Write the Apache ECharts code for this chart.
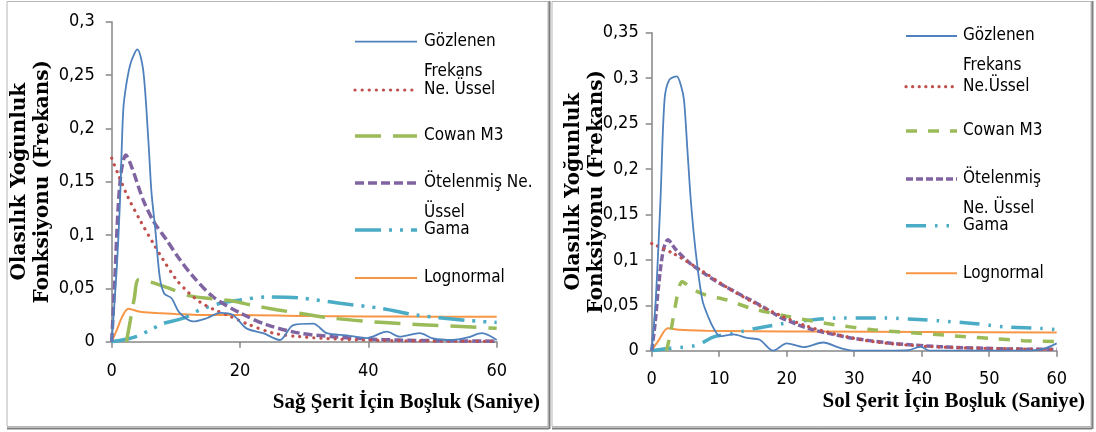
<!DOCTYPE html>
<html>
<head>
<meta charset="utf-8">
<script src="https://cdn.jsdelivr.net/npm/echarts@6/dist/echarts.min.js"></script>
<style>
    html, body { margin: 0; padding: 0; background: #fff; }
    #chart { width: 1096px; height: 432px; }
</style>
</head>
<body>
<div id="chart"></div>
<script>
// Sağ şerit (sol grafik) - [saniye, frekans]
const sagGozlenen = [[0, 0], [0.8, 0.07], [1.3, 0.133], [1.8, 0.217], [2.3, 0.242], [3.0, 0.262], [4.0, 0.274], [4.9, 0.255],
    [5.7, 0.19], [6.2, 0.14], [6.8, 0.105], [7.5, 0.06], [8.2, 0.045], [9.3, 0.041], [10.6, 0.027], [12.7, 0.019],
    [14.8, 0.022], [16.9, 0.027], [18.9, 0.025], [21.0, 0.0125], [23.6, 0.008], [26.2, 0.0016], [28.3, 0.0156],
    [31.4, 0.017], [33.5, 0.008], [36.6, 0.006], [39.7, 0.0034], [42.9, 0.0094], [44.9, 0.0047], [48.0, 0.008],
    [50.1, 0.003], [53.2, 0.0016], [55.5, 0.004], [57.7, 0.008], [60, 0.0016]];
const sagNeUssel = [[0, 0.172], [1, 0.157], [2.5, 0.136], [4.5, 0.113], [6.5, 0.092], [8, 0.077], [10.1, 0.058], [12, 0.046],
    [13.8, 0.037], [16, 0.03], [18, 0.025], [21, 0.017], [25.2, 0.008], [29.3, 0.0047], [35, 0.0025], [42, 0.0012],
    [50, 0.0006], [60, 0.0003]];
const sagCowan = [[2.3, 0], [2.9, 0.02], [3.5, 0.04], [4.2, 0.058], [6, 0.056], [9, 0.05], [12.2, 0.043], [16, 0.04],
    [19, 0.038], [22, 0.034], [25.7, 0.03], [30, 0.026], [34.5, 0.022], [40, 0.019], [44.9, 0.017], [50, 0.0155],
    [55.3, 0.014], [60, 0.0125]];
const sagOtelenmis = [[0, 0], [0.5, 0.06], [1.0, 0.125], [1.5, 0.16], [2.2, 0.175], [3.1, 0.164], [4.9, 0.133], [6.5, 0.113],
    [8.6, 0.095], [10.5, 0.078], [12.7, 0.061], [15.8, 0.042], [20, 0.027], [24.1, 0.016], [29.3, 0.008], [34.5, 0.0047],
    [40, 0.0025], [45, 0.0015], [50, 0.001], [55, 0.0007], [60, 0.0005]];
const sagGama = [[0, 0], [2, 0.002], [3.9, 0.005], [6, 0.011], [8, 0.017], [11.2, 0.022], [13.8, 0.03], [16.9, 0.036],
    [20, 0.039], [24.1, 0.042], [29.3, 0.041], [35.6, 0.036], [42.3, 0.031], [47.5, 0.025], [55.3, 0.02], [60, 0.018]];
const sagLognormal = [[0, 0], [0.8, 0.011], [1.6, 0.023], [2.6, 0.031], [4.4, 0.028], [7, 0.027], [10, 0.026],
    [13.8, 0.025], [20, 0.025], [30, 0.024], [40, 0.0237], [50, 0.0235], [60, 0.0234]];

// Sol şerit (sağ grafik)
const solGozlenen = [[0, 0], [0.6, 0.056], [1.3, 0.166], [1.9, 0.276], [2.6, 0.298], [3.7, 0.302], [4.4, 0.29], [4.8, 0.275],
    [5.3, 0.22], [5.8, 0.165], [6.5, 0.11], [7.5, 0.056], [8.5, 0.035], [9.3, 0.023], [10.1, 0.016], [12.1, 0.018],
    [14.1, 0.014], [16, 0.012], [18, 0], [20, 0.008], [22.5, 0.004], [25.4, 0.009], [27.9, 0.003], [30, 0], [35, 0],
    [38, 0.0005], [39.8, 0.0044], [41.2, 0], [45, 0], [50, 0], [55, 0], [58, 0.002], [60, 0.008]];
const solNeUssel = [[0, 0.118], [3.2, 0.107], [7.2, 0.089], [11.1, 0.07], [15.1, 0.053], [19, 0.039], [23, 0.027],
    [27.9, 0.017], [32.8, 0.0099], [40.2, 0.005], [50, 0.0025], [60, 0.0015]];
const solCowan = [[2.2, 0], [2.8, 0.02], [3.4, 0.045], [4.0, 0.068], [4.5, 0.076], [6, 0.068], [8.1, 0.061], [11.1, 0.056],
    [14.6, 0.047], [20, 0.038], [25.9, 0.03], [32.8, 0.023], [40, 0.019], [46.6, 0.0154], [50.1, 0.0136], [55, 0.011],
    [60, 0.01]];
const solOtelenmis = [[0, 0], [0.5, 0.03], [1.0, 0.07], [1.7, 0.11], [2.4, 0.122], [3.5, 0.112], [5.7, 0.096], [8, 0.084],
    [10.1, 0.074], [12.3, 0.065], [14.6, 0.056], [17, 0.046], [19, 0.037], [21.5, 0.029], [23.9, 0.023], [26.9, 0.018],
    [29.9, 0.0136], [35.8, 0.008], [42.7, 0.0044], [52.6, 0.002], [60, 0.0015]];
const solGama = [[0, 0], [2.7, 0.0026], [6.7, 0.006], [9.1, 0.015], [12.1, 0.019], [15, 0.024], [18, 0.028], [21.5, 0.032],
    [27.9, 0.036], [34.3, 0.036], [40.2, 0.034], [47.6, 0.03], [52.6, 0.026], [57.5, 0.0246], [60, 0.023]];
const solLognormal = [[0, 0], [1, 0.011], [2.4, 0.0246], [4, 0.023], [8, 0.022], [15, 0.0215], [25, 0.021], [40, 0.0205],
    [60, 0.02]];

// eksenler
const sagXTicks = [0, 20, 40, 60];
const sagYTicks = [0, 0.05, 0.1, 0.15, 0.2, 0.25, 0.3];
const solXTicks = [0, 10, 20, 30, 40, 50, 60];
const solYTicks = [0, 0.05, 0.1, 0.15, 0.2, 0.25, 0.3, 0.35];

// lejant
const sagLegend = ['Gözlenen', 'Ne. Üssel', 'Cowan M3', 'Ötelenmiş Ne.', 'Gama', 'Lognormal'];
const sagLegend2 = ['Frekans', '', '', 'Üssel', '', ''];
const solLegend = ['Gözlenen', 'Ne.Üssel', 'Cowan M3', 'Ötelenmiş', 'Gama', 'Lognormal'];
const solLegend2 = ['Frekans', '', '', 'Ne. Üssel', '', ''];

const sagXTitle = 'Sağ Şerit İçin Boşluk (Saniye)';
const solXTitle = 'Sol Şerit İçin Boşluk (Saniye)';
const yTitle = 'Olasılık Yoğunluk\nFonksiyonu (Frekans)';

const narrow = "'DejaVu Sans Condensed', 'Liberation Sans Narrow', sans-serif";
const colors = ['#4F81BD', '#C0504D', '#9BBB59', '#8064A2', '#4BACC6', '#F79646'];
const widths = [1.8, 3.2, 3.5, 3.5, 3.5, 2];
const caps = ['butt', 'round', 'butt', 'butt', 'butt', 'butt'];
const sagDash = ['solid', [0.1, 7], [26, 12], [9, 4], [26, 8, 3, 8, 3, 8], 'solid'];
const solDash = ['solid', [0.1, 6.5], [11, 11], [7, 3], [20, 9, 2.5, 9, 2.5, 9], 'solid'];

function fmt(v) {
    return String(+v.toFixed(2)).replace('.', ',');
}

function makeSeries(list, idx, dashes) {
    return list.map(function (d, i) {
        return {
            type: 'line',
            xAxisIndex: idx,
            yAxisIndex: idx,
            data: d,
            smooth: 0.3,
            showSymbol: false,
            silent: true,
            z: 10 - i,
            lineStyle: { color: colors[i], width: widths[i], type: dashes[i], cap: caps[i] }
        };
    });
}

function makeLegend(lineX1, lineX2, textX, rowY, secondOff, labels, labels2, dashes) {
    let items = [];
    labels.forEach(function (name, i) {
        let dash = dashes[i] === 'solid' ? null : dashes[i];
        items.push({
            type: 'line',
            shape: { x1: lineX1, y1: rowY[i], x2: lineX2, y2: rowY[i] },
            style: { stroke: colors[i], lineWidth: widths[i], lineDash: dash, lineCap: caps[i] }
        });
        items.push({
            type: 'text', x: textX, y: rowY[i],
            style: { text: name, font: '17px ' + narrow, fill: '#000', textVerticalAlign: 'middle' }
        });
        if (labels2[i]) {
            items.push({
                type: 'text', x: textX, y: rowY[i] + secondOff,
                style: { text: labels2[i], font: '17px ' + narrow, fill: '#000', textVerticalAlign: 'middle' }
            });
        }
    });
    return items;
}

function xAxisOpt(idx, ticks, margin) {
    return {
        gridIndex: idx, type: 'value',
        min: ticks[0], max: ticks[ticks.length - 1], interval: ticks[1] - ticks[0],
        splitLine: { show: false },
        axisLine: { lineStyle: { color: '#868686', width: 1.5 } },
        axisTick: { length: 6, lineStyle: { color: '#868686', width: 1.5 } },
        axisLabel: { fontFamily: narrow, fontSize: 18, color: '#000', margin: margin }
    };
}

function yAxisOpt(idx, ticks, margin, gap) {
    return {
        gridIndex: idx, type: 'value',
        min: ticks[0], max: ticks[ticks.length - 1], interval: 0.05,
        splitLine: { show: false },
        axisLine: { show: true, lineStyle: { color: '#868686', width: 1.5 } },
        axisTick: { show: true, length: 6, lineStyle: { color: '#868686', width: 1.5 } },
        axisLabel: { fontFamily: narrow, fontSize: 18, color: '#000', margin: margin, formatter: fmt },
        name: yTitle,
        nameLocation: 'middle',
        nameRotate: 90,
        nameGap: gap,
        nameMoveOverlap: false,
        nameTextStyle: { fontFamily: 'DejaVu Serif', fontWeight: 'bold', fontSize: 20, lineHeight: 23, color: '#000' }
    };
}

let chart = echarts.init(document.getElementById('chart'), null, { renderer: 'canvas' });

let frames = [
    { type: 'rect', shape: { x: 7, y: 1.5, width: 541, height: 425 }, style: { fill: 'none', stroke: '#b5b5b5', lineWidth: 1 } },
    { type: 'rect', shape: { x: 552, y: 1.5, width: 539, height: 425 }, style: { fill: 'none', stroke: '#b5b5b5', lineWidth: 1 } },
    { type: 'line', shape: { x1: 7, y1: 428.5, x2: 549, y2: 428.5 }, style: { stroke: '#7f7f7f', lineWidth: 2 } },
    { type: 'line', shape: { x1: 549.5, y1: 1, x2: 549.5, y2: 429 }, style: { stroke: '#7f7f7f', lineWidth: 2 } },
    { type: 'line', shape: { x1: 552, y1: 428.5, x2: 1092, y2: 428.5 }, style: { stroke: '#7f7f7f', lineWidth: 2 } },
    { type: 'line', shape: { x1: 1092.5, y1: 1, x2: 1092.5, y2: 429 }, style: { stroke: '#7f7f7f', lineWidth: 2 } },
    { type: 'text', x: 540, y: 403, style: { text: sagXTitle, font: 'bold 21px "Liberation Serif"', fill: '#000', textAlign: 'right', textVerticalAlign: 'middle' } },
    { type: 'text', x: 1085, y: 402, style: { text: solXTitle, font: 'bold 21px "Liberation Serif"', fill: '#000', textAlign: 'right', textVerticalAlign: 'middle' } }
];

let option = {
    animation: false,
    grid: [
        { left: 111.7, top: 21.7, width: 385, height: 320, outerBoundsMode: 'none' },
        { left: 651.7, top: 32.7, width: 405, height: 318, outerBoundsMode: 'none' }
    ],
    xAxis: [xAxisOpt(0, sagXTicks, 21), xAxisOpt(1, solXTicks, 20)],
    yAxis: [yAxisOpt(0, sagYTicks, 17, 57), yAxisOpt(1, solYTicks, 13, 43)],
    series: makeSeries([sagGozlenen, sagNeUssel, sagCowan, sagOtelenmis, sagGama, sagLognormal], 0, sagDash)
        .concat(makeSeries([solGozlenen, solNeUssel, solCowan, solOtelenmis, solGama, solLognormal], 1, solDash)),
    graphic: frames
        .concat(makeLegend(355, 417, 424, [41.7, 90, 136, 183, 230, 278], 30, sagLegend, sagLegend2, sagDash))
        .concat(makeLegend(906, 957, 963, [36, 86.7, 131, 179, 225.7, 273.3], 30, solLegend, solLegend2, solDash))
};

chart.setOption(option);
</script>
</body>
</html>
